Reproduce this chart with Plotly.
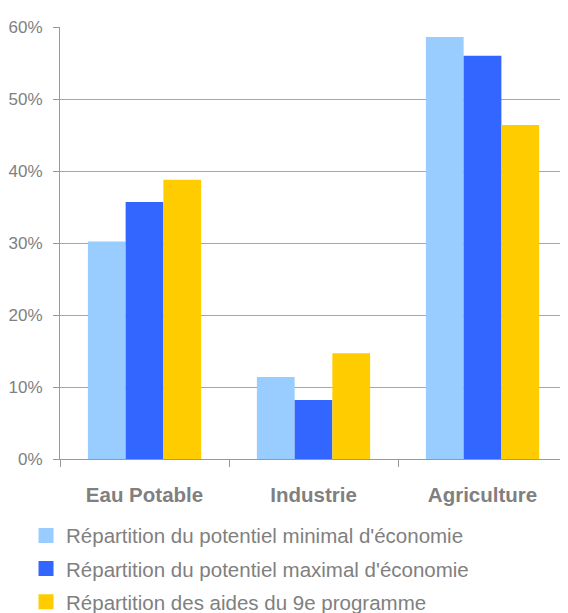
import plotly.graph_objects as go

categories = ["Eau Potable", "Industrie", "Agriculture"]
series_names = [
    "Répartition du potentiel minimal d'économie",
    "Répartition du potentiel maximal d'économie",
    "Répartition des aides du 9e programme",
]
val_min = [0.302, 0.114, 0.586]
val_max = [0.357, 0.082, 0.560]
val_aides = [0.388, 0.147, 0.464]
colors = ["#99CCFF", "#3366FF", "#FFCC00"]

GRAY = "#808080"
fig = go.Figure()
for i, (name, vals) in enumerate(zip(series_names, [val_min, val_max, val_aides])):
    fig.add_trace(go.Bar(x=categories, y=vals, name=name, marker_color=colors[i],
                         marker_line_width=0, legendgroup=f"g{i}", showlegend=False))
    # legend entry with a larger square swatch
    fig.add_trace(go.Scatter(x=[None], y=[None], mode="markers", name=name,
                             marker=dict(symbol="square", size=15, color=colors[i]),
                             legendgroup=f"g{i}", showlegend=True))

# the page body has an 8px margin, so the figure is sized to fit inside the window
fig.update_layout(
    width=560, height=605,
    margin=dict(l=52, r=1, t=19, b=154, autoexpand=False),
    paper_bgcolor="white", plot_bgcolor="white",
    barmode="group", bargap=0.33, bargroupgap=0,
    font=dict(family="Liberation Sans, Arial", color=GRAY, size=17),
    showlegend=True,
    legend=dict(orientation="v", x=-0.067, xanchor="left", y=-0.131, yanchor="top",
                font=dict(size=20.5, color=GRAY), tracegroupgap=3.5,
                itemsizing="trace", bgcolor="rgba(0,0,0,0)"),
    xaxis=dict(type="category", range=[-0.5, 2.5], tickson="boundaries",
               ticks="outside", ticklen=7, tickcolor="#999999",
               showline=True, linecolor="#999999", linewidth=1,
               showgrid=False, automargin=False,
               tickvals=categories, ticktext=[f"<b>{c}</b>" for c in categories],
               tickfont=dict(size=20.5, color=GRAY),
               ticklabelstandoff=17),
    yaxis=dict(range=[0, 0.6], dtick=0.1, tickformat=".0%",
               ticks="outside", ticklen=6, tickcolor="#999999",
               showline=True, linecolor="#999999", linewidth=1,
               showgrid=True, gridcolor="#a6a6a6", gridwidth=1,
               zeroline=False, automargin=False,
               tickfont=dict(size=17, color=GRAY),
               ticklabelstandoff=7),
)

fig.write_html("out.html")
